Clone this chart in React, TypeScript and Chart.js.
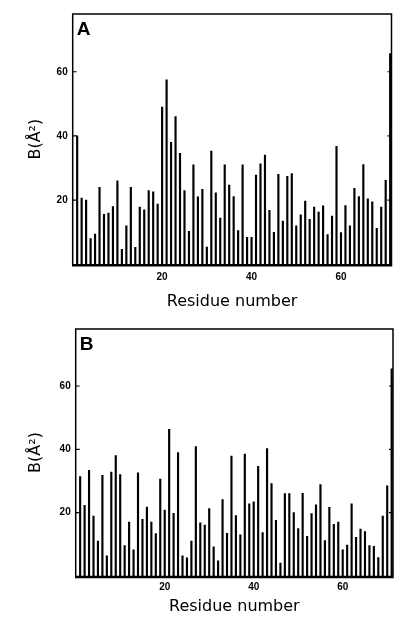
import React, { useEffect, useRef } from "react";
import { Chart, registerables } from "chart.js";
Chart.register(...registerables);

// Residue numbers (categories)
const residues = [
  1, 2, 3, 4, 5, 6, 7, 8, 9, 10, 11, 12, 13, 14, 15, 16, 17, 18, 19, 20,
  21, 22, 23, 24, 25, 26, 27, 28, 29, 30, 31, 32, 33, 34, 35, 36, 37, 38, 39, 40,
  41, 42, 43, 44, 45, 46, 47, 48, 49, 50, 51, 52, 53, 54, 55, 56, 57, 58, 59, 60,
  61, 62, 63, 64, 65, 66, 67, 68, 69, 70, 71,
];

// Panel A B-factors (Å²)
const bFactorsA = [
  40, 20.6, 20, 8, 9.4, 24, 15.6, 16, 18, 26,
  4.7, 12, 24, 5.3, 17.8, 17, 23, 22.6, 18.8, 49,
  57.5, 38, 46, 34.6, 23, 10.3, 31, 21, 23.4, 5.4,
  35.3, 22.3, 14.4, 31, 24.7, 21.1, 10.5, 31, 8.4, 8.4,
  27.8, 31.3, 34, 16.8, 10, 28, 13.5, 27.4, 28.3, 12,
  15.4, 19.7, 14, 17.8, 16.3, 18.2, 9.3, 15, 36.8, 9.9,
  18.3, 12, 23.7, 21.1, 31.1, 20.4, 19.5, 11.2, 17.8, 26.2, 65.7,
];

// Panel B B-factors (Å²)
const bFactorsB = [
  31.4, 22.3, 33.4, 18.9, 11, 31.8, 6.4, 32.8, 38, 32,
  9.6, 17, 8.3, 32.6, 17.9, 21.8, 17, 13.4, 30.6, 20.8,
  46.3, 19.8, 39, 6.4, 5.7, 11, 40.9, 16.8, 16.1, 21.3,
  9.2, 4.8, 24.1, 13.5, 37.9, 19.1, 13, 38.5, 22.8, 23.4,
  34.6, 13.7, 40.2, 29.2, 17.6, 4.1, 26, 26, 20, 15,
  26.1, 12.5, 19.7, 22.5, 28.9, 11.2, 21.7, 16.3, 17, 8.3,
  9.8, 22.8, 12.2, 14.8, 14, 9.6, 9.4, 5.8, 18.9, 28.5, 65.4,
];

const xTickValues = [20, 40, 60];
const yTickValues = [20, 40, 60];
const xTitle = "Residue number";
const yTitle = "B(Å²)";

type PanelProps = {
  letter: string;
  values: number[];
  top: number;
  height: number;
  padTop: number;
  padRight: number;
  axisWidth: number;
  axisHeight: number;
  xTickPad: number;
  xTitlePad: number;
};

function Panel(p: PanelProps) {
  const ref = useRef<HTMLCanvasElement | null>(null);
  useEffect(() => {
    const canvas = ref.current;
    if (!canvas) return;
    const framePlugin = {
      id: "frame" + p.letter,
      afterDatasetsDraw(chart: any) {
        const { ctx, chartArea } = chart;
        const { left, right, top, bottom } = chartArea;
        const y = chart.scales.y;
        ctx.save();
        ctx.strokeStyle = "#000";
        ctx.lineWidth = 1.5;
        ctx.beginPath();
        ctx.moveTo(left, bottom);
        ctx.lineTo(left, top);
        ctx.lineTo(right, top);
        ctx.lineTo(right, bottom);
        ctx.stroke();
        ctx.lineWidth = 2.5;
        ctx.beginPath();
        ctx.moveTo(left - 0.75, bottom + 1);
        ctx.lineTo(right + 0.75, bottom + 1);
        ctx.stroke();
        ctx.lineWidth = 1.2;
        for (const v of yTickValues) {
          const py = y.getPixelForValue(v);
          ctx.beginPath();
          ctx.moveTo(left, py);
          ctx.lineTo(left + 4, py);
          ctx.moveTo(right, py);
          ctx.lineTo(right - 4, py);
          ctx.stroke();
        }
        ctx.fillStyle = "#000";
        ctx.font = "bold 19px 'Liberation Sans', Arial, sans-serif";
        ctx.textBaseline = "alphabetic";
        ctx.textAlign = "left";
        ctx.fillText(p.letter, left + 4, top + 20.5);
        ctx.restore();
      },
    };
    const chart = new Chart(canvas, {
      type: "bar",
      data: {
        datasets: [
          {
            data: residues.map((r, i) => ({ x: r, y: p.values[i] })),
            backgroundColor: "#000",
            borderWidth: 0,
            barThickness: 1.5,
          },
        ],
      },
      options: {
        responsive: false,
        animation: false,
        devicePixelRatio: 1,
        layout: { padding: { top: p.padTop, right: p.padRight, left: 0, bottom: 0 } },
        plugins: { legend: { display: false }, tooltip: { enabled: false } },
        scales: {
          x: {
            type: "linear",
            offset: false,
            min: 0,
            max: 71.3,
            grid: { display: false, drawTicks: false, offset: false },
            border: { display: false },
            afterBuildTicks: (s: any) => {
              s.ticks = xTickValues.map((v) => ({ value: v }));
            },
            afterFit: (s: any) => {
              s.height = p.axisHeight;
            },
            ticks: {
              autoSkip: false,
              maxRotation: 0,
              padding: p.xTickPad,
              color: "#000",
              font: { family: "'Liberation Sans', Arial, sans-serif", size: 10, weight: "bold" },
            },
            title: {
              display: true,
              text: xTitle,
              color: "#000",
              font: { family: "'DejaVu Sans', sans-serif", size: 16 },
              padding: { top: 0, bottom: p.xTitlePad },
            },
          },
          y: {
            type: "linear",
            min: 0,
            max: 78,
            grid: { display: false, drawTicks: false },
            border: { display: false },
            afterBuildTicks: (s: any) => {
              s.ticks = yTickValues.map((v) => ({ value: v }));
            },
            afterFit: (s: any) => {
              s.width = p.axisWidth;
            },
            ticks: {
              padding: 5,
              color: "#000",
              font: { family: "'Liberation Sans', Arial, sans-serif", size: 10, weight: "bold" },
            },
            title: {
              display: true,
              text: yTitle,
              color: "#000",
              font: { family: "'DejaVu Sans', sans-serif", size: 16 },
              padding: { top: 26, bottom: 0 },
            },
          },
        },
      },
      plugins: [framePlugin],
    } as any);
    return () => chart.destroy();
  }, []);
  return (
    <canvas
      ref={ref}
      width={395}
      height={p.height}
      style={{ position: "absolute", left: 0, top: p.top, width: 395, height: p.height }}
    />
  );
}

export default function App() {
  return (
    <div style={{ position: "absolute", left: 0, top: 0, width: 395, height: 625, background: "#fff" }}>
      <Panel
        letter="A"
        values={bFactorsA}
        top={0}
        height={318}
        padTop={14}
        padRight={3.5}
        axisWidth={72.7}
        axisHeight={53.7}
        xTickPad={6.7}
        xTitlePad={7}
      />
      <Panel
        letter="B"
        values={bFactorsB}
        top={318}
        height={307}
        padTop={7}
        padRight={2}
        axisWidth={75.7}
        axisHeight={49}
        xTickPad={5.5}
        xTitlePad={8.4}
      />
    </div>
  );
}
